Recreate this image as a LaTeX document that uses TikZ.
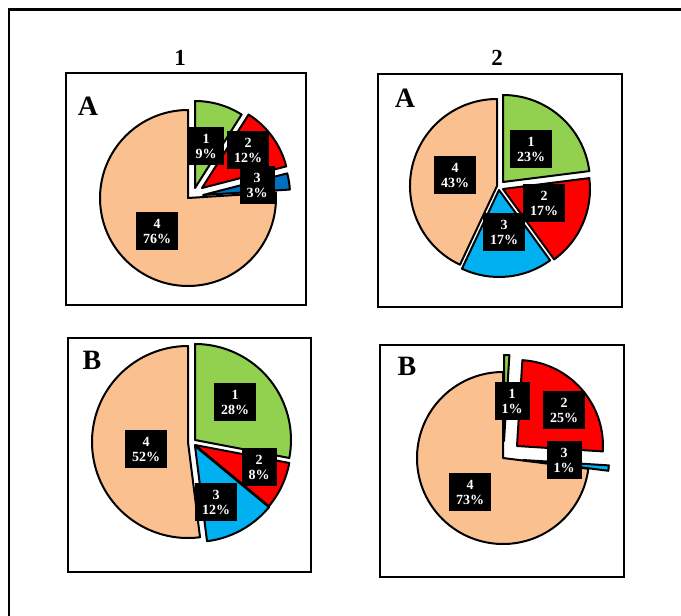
\documentclass[tikz,border=0pt]{standalone}
\usepackage{fontspec}
\setmainfont{Liberation Serif}
\usetikzlibrary{calc}
\definecolor{pgreen}{HTML}{92D050}
\definecolor{pred}{HTML}{FF0000}
\definecolor{pblue}{HTML}{00B0F0}
\definecolor{pdblue}{HTML}{0070C0}
\definecolor{ppeach}{HTML}{FAC090}
\tikzset{
 frame/.style={draw=black, line width=2.2pt},
 slice/.style={draw=black, line width=2pt, line join=round},
 lbl/.style={fill=black, text=white, font=\fontsize{14}{15}\selectfont\bfseries, align=center, inner xsep=7pt, inner ysep=6.5pt},
 letter/.style={font=\fontsize{28}{28}\selectfont\bfseries, inner sep=0pt},
 colhead/.style={font=\fontsize{23}{23}\selectfont\bfseries, inner sep=0pt},
}
% apex x, apex y, radius, start angle, end angle (visual, clockwise), colour
\newcommand{\pieslice}[6]{%
  \pgfmathsetmacro\sang{-(#4)}%
  \pgfmathsetmacro\eang{-(#5)}%
  \filldraw[slice, fill=#6] (#1,#2) -- ($(#1,#2)+(\sang:#3)$) arc[start angle=\sang, end angle=\eang, radius=#3] -- cycle;
}
\begin{document}
\begin{tikzpicture}[x=1pt,y=-1pt]
\useasboundingbox (0,0) rectangle (681,616);
\fill[white] (0,0) rectangle (681,616);
% outer frame (top and left edges visible)
\draw[frame] (9,616) -- (9,9.5) -- (681,9.5);
% column headings
\node[colhead] (h1) at (180,58) {1};
\node[colhead] (h2) at (497,58) {2};
% panel frames
\draw[frame] (66,73) rectangle (306,305);
\draw[frame] (378,74) rectangle (622,307);
\draw[frame] (68,338) rectangle (311,572);
\draw[frame] (380,345) rectangle (624,577);
% panel letters
\node[letter] (lA1) at (88,106) {A};
\node[letter] (lA2) at (405,98) {A};
\node[letter] (lB1) at (92,360) {B};
\node[letter] (lB2) at (407,366) {B};
% pie 1A
\pieslice{188}{198}{88}{3.6}{-270}{ppeach}
\pieslice{195}{188}{87}{90}{57.6}{pgreen}
\pieslice{202}{188}{87}{57.6}{14.4}{pred}
\pieslice{203}{195}{87}{14.4}{3.6}{pdblue}
\node[lbl] (a11) at (206,146) {1\\9\%};
\node[lbl] (a12) at (248,150) {2\\12\%};
\node[lbl] (a13) at (257,185) {3\\3\%};
\node[lbl] (a14) at (157,231) {4\\76\%};
% pie 2A
\pieslice{503}{182}{87}{90}{7.2}{pgreen}
\pieslice{503}{189}{87}{7.2}{-54}{pred}
\pieslice{499}{190}{87}{-54}{-115.2}{pblue}
\pieslice{497}{186}{87}{-115.2}{-270}{ppeach}
\node[lbl] (a21) at (531,149) {1\\23\%};
\node[lbl] (a22) at (544,203) {2\\17\%};
\node[lbl] (a23) at (504,232) {3\\17\%};
\node[lbl] (a24) at (455,175) {4\\43\%};
% pie 1B
\pieslice{195}{440}{96}{90}{-10.8}{pgreen}
\pieslice{195}{445}{96}{-10.8}{-39.6}{pred}
\pieslice{195}{446}{96}{-39.6}{-82.8}{pblue}
\pieslice{188}{442}{96}{-82.8}{-270}{ppeach}
\node[lbl] (b11) at (235,402) {1\\28\%};
\node[lbl] (b12) at (259,467) {2\\8\%};
\node[lbl] (b13) at (216,502) {3\\12\%};
\node[lbl] (b14) at (146,449) {4\\52\%};
% pie 2B
\pieslice{503}{458}{86}{-7.2}{-270}{ppeach}
\pieslice{504}{441}{86}{90}{86.4}{pgreen}
\pieslice{517}{446}{86}{86.4}{-3.6}{pred}
\pieslice{523}{460}{86}{-3.6}{-7.2}{pblue}
\node[lbl] (b21) at (512,401) {1\\1\%};
\node[lbl] (b22) at (564,410) {2\\25\%};
\node[lbl] (b23) at (564,460) {3\\1\%};
\node[lbl] (b24) at (470,492) {4\\73\%};
\end{tikzpicture}
\end{document}
